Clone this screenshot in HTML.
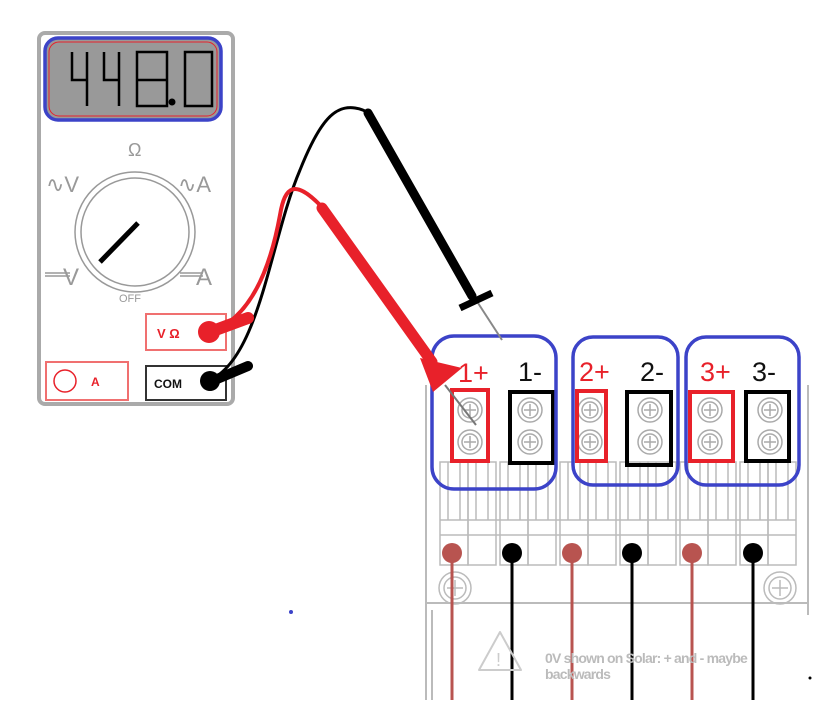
<!DOCTYPE html>
<html><head><meta charset="utf-8"><style>
html,body{margin:0;padding:0;background:#fff;}
svg{display:block;}
text{font-family:"Liberation Sans",sans-serif;}
</style></head><body>
<svg width="836" height="723" viewBox="0 0 836 723" xmlns="http://www.w3.org/2000/svg">
<g stroke="#bbb" fill="none" stroke-width="2">
<line x1="426" y1="385" x2="426" y2="700"/>
<line x1="432" y1="610" x2="432" y2="700"/>
<line x1="426" y1="603" x2="808" y2="603"/>
<line x1="808" y1="385" x2="808" y2="615"/>
</g>
<g stroke="#bbb" fill="none" stroke-width="1.5">
<rect x="440" y="462" width="28" height="103"/><rect x="468" y="462" width="28" height="103"/>
<rect x="500" y="462" width="28" height="103"/><rect x="528" y="462" width="28" height="103"/>
<rect x="560" y="462" width="28" height="103"/><rect x="588" y="462" width="28" height="103"/>
<rect x="620" y="462" width="28" height="103"/><rect x="648" y="462" width="28" height="103"/>
<rect x="680" y="462" width="28" height="103"/><rect x="708" y="462" width="28" height="103"/>
<rect x="740" y="462" width="28" height="103"/><rect x="768" y="462" width="28" height="103"/>
<path d="M448 462V520M460 462V520M476 462V520M488 462V520M508 462V520M520 462V520M536 462V520M548 462V520M568 462V520M580 462V520M596 462V520M608 462V520M628 462V520M640 462V520M656 462V520M668 462V520M688 462V520M700 462V520M716 462V520M728 462V520M748 462V520M760 462V520M776 462V520M788 462V520"/>
<path d="M440 520H796M440 535H796"/>
<circle cx="455" cy="588" r="16"/><circle cx="455" cy="588" r="11"/>
<circle cx="780" cy="588" r="16"/><circle cx="780" cy="588" r="11"/>
<path d="M455 580v16M447 588h16M780 580v16M772 588h16"/>
</g>
<g stroke="#aaa" fill="none" stroke-width="1.5">
<g id="s">
<circle cx="470" cy="410" r="12"/><circle cx="470" cy="410" r="8"/><path d="M470 404v12M464 410h12"/>
<circle cx="470" cy="442" r="12"/><circle cx="470" cy="442" r="8"/><path d="M470 436v12M464 442h12"/>
</g>
<use href="#s" x="60"/><use href="#s" x="120"/><use href="#s" x="180"/><use href="#s" x="240"/><use href="#s" x="300"/>
</g>
<g fill="none" stroke-width="4">
<rect x="452" y="390" width="36" height="71" stroke="#e8212a"/>
<rect x="510" y="392" width="43" height="71" stroke="#000"/>
<rect x="577" y="391" width="29" height="70" stroke="#e8212a"/>
<rect x="627" y="392" width="44" height="73" stroke="#000"/>
<rect x="690" y="392" width="43" height="69" stroke="#e8212a"/>
<rect x="746" y="392" width="43" height="69" stroke="#000"/>
</g>
<g fill="none" stroke="#3c43c8" stroke-width="3.5">
<rect x="432" y="336" width="124" height="153" rx="22"/>
<rect x="573" y="337" width="105" height="148" rx="20"/>
<rect x="686" y="337" width="113" height="148" rx="20"/>
</g>
<g font-size="27">
<text x="458" y="382" fill="#e8212a">1+</text><text x="518" y="381" fill="#111">1-</text>
<text x="579" y="381" fill="#e8212a">2+</text><text x="640" y="381" fill="#111">2-</text>
<text x="700" y="381" fill="#e8212a">3+</text><text x="752" y="381" fill="#111">3-</text>
</g>
<g stroke-width="3">
<line x1="452" y1="553" x2="452" y2="700" stroke="#b85450"/>
<line x1="572" y1="553" x2="572" y2="700" stroke="#b85450"/>
<line x1="692" y1="553" x2="692" y2="700" stroke="#b85450"/>
<line x1="512" y1="553" x2="512" y2="700" stroke="#000"/>
<line x1="632" y1="553" x2="632" y2="700" stroke="#000"/>
<line x1="753" y1="553" x2="753" y2="700" stroke="#000"/>
</g>
<g><circle cx="452" cy="553" r="10" fill="#b85450"/><circle cx="572" cy="553" r="10" fill="#b85450"/><circle cx="692" cy="553" r="10" fill="#b85450"/>
<circle cx="512" cy="553" r="10" fill="#000"/><circle cx="632" cy="553" r="10" fill="#000"/><circle cx="753" cy="553" r="10" fill="#000"/></g>
<path d="M500 632 L521 670 H479 Z" fill="none" stroke="#ccc" stroke-width="2" stroke-linejoin="round"/>
<text x="496" y="666" font-size="18" fill="#ccc">!</text>
<text x="545" y="663" font-size="14" font-weight="bold" fill="#bbb" letter-spacing="-0.8">0V shown on Solar: + and - maybe</text>
<text x="545" y="679" font-size="14" font-weight="bold" fill="#bbb" letter-spacing="-0.8">backwards</text>
<circle cx="291" cy="612" r="2" fill="#3c43c8"/>
<circle cx="810" cy="678" r="1.5" fill="#000"/>

<rect x="39" y="33" width="194" height="371" rx="6" fill="#fff" stroke="#aaa" stroke-width="4"/>
<rect x="45" y="38" width="176" height="82" rx="13" fill="#999" stroke="#3c43c8" stroke-width="3.5"/>
<rect x="49" y="42" width="168" height="74" rx="10" fill="none" stroke="#e8212a" stroke-width="1"/>
<g stroke="#000" stroke-width="2.5" fill="none">
<path d="M72 52V80H87M87 52V106"/>
<path d="M104 52V80H119M119 52V106"/>
<path d="M137 52H167V106H137ZM137 80H167"/>
<path d="M185 52H212V106H185Z"/>
</g>
<circle cx="172" cy="102" r="3.5" fill="#000"/>
<g fill="none" stroke="#999" stroke-width="1.5">
<circle cx="135" cy="232" r="60"/><circle cx="135" cy="232" r="54"/>
<path d="M45 273H70M45 276H70M180 273H203M180 276H203"/>
</g>
<line x1="100" y1="262" x2="138" y2="223" stroke="#000" stroke-width="5"/>
<g fill="#999" font-size="18">
<text x="128" y="156">Ω</text>
<text x="46" y="192" font-size="22">∿V</text>
<text x="178" y="192" font-size="22">∿A</text>
<text x="63" y="285" font-size="24">V</text>
<text x="196" y="285" font-size="24">A</text>
<text x="119" y="302" font-size="11">OFF</text>
</g>
<rect x="146" y="314" width="80" height="36" fill="#fff" stroke="#f07070" stroke-width="2"/>
<text x="157" y="338" font-size="13" font-weight="bold" fill="#e8212a">V Ω</text>
<rect x="146" y="366" width="80" height="34" fill="#fff" stroke="#333" stroke-width="2"/>
<text x="154" y="388" font-size="12" font-weight="bold" fill="#111">COM</text>
<rect x="46" y="362" width="82" height="38" fill="#fff" stroke="#f07070" stroke-width="2"/>
<circle cx="65" cy="381" r="11" fill="none" stroke="#e8212a" stroke-width="1.5"/>
<text x="91" y="386" font-size="12" font-weight="bold" fill="#e8212a">A</text>

<path d="M208 381 C260 360 270 240 300 170 C320 120 335 105 355 108 C362 109 366 111 370 114" fill="none" stroke="#000" stroke-width="3"/>
<path d="M210 382 L248 366" stroke="#000" stroke-width="10" stroke-linecap="round"/>
<circle cx="210" cy="381" r="10" fill="#000"/>
<line x1="478" y1="303" x2="502" y2="340" stroke="#888" stroke-width="2"/>
<path d="M368 113 L472 296" stroke="#000" stroke-width="9" stroke-linecap="round"/>
<path d="M460 308 L492 293" stroke="#000" stroke-width="7"/>
<path d="M208 333 C250 320 270 270 280 215 C285 185 295 180 320 205" fill="none" stroke="#e8212a" stroke-width="4"/>
<path d="M210 332 L248 318" stroke="#e8212a" stroke-width="12" stroke-linecap="round"/>
<circle cx="209" cy="332" r="11" fill="#e8212a"/>
<line x1="445" y1="385" x2="476" y2="425" stroke="#777" stroke-width="2"/>
<path d="M322 208 L432 362" stroke="#e8212a" stroke-width="11" stroke-linecap="round"/>
<path d="M420 358 L462 368 L433 392 Z" fill="#e8212a"/>
</svg>
</body></html>
